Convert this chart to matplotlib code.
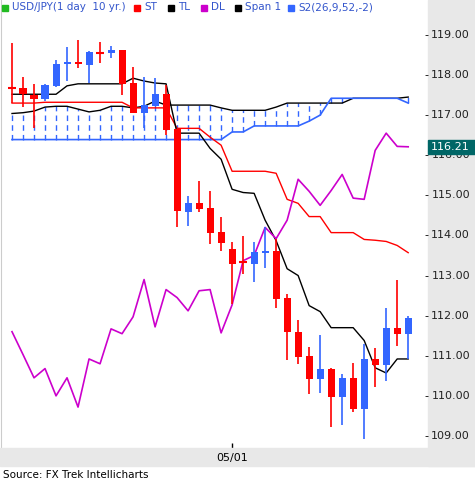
import numpy as np
import matplotlib.pyplot as plt

# candle data (USD/JPY daily)
opens = [117.68, 117.68, 117.50, 117.40, 117.73, 118.28, 118.33, 118.25, 118.56, 118.55,
         118.63, 117.80, 117.05, 117.22, 117.52, 116.65, 114.58, 114.80, 114.68, 114.08,
         113.65, 113.33, 113.30, 113.55, 113.62, 112.45, 111.60, 111.00, 110.43, 110.68,
         109.98, 110.45, 109.68, 110.93, 110.78, 111.68, 111.53]
highs = [118.80, 117.95, 117.78, 117.78, 118.38, 118.70, 118.88, 118.60, 118.82, 118.73,
         118.63, 118.20, 117.95, 117.92, 117.75, 116.65, 114.98, 115.35, 115.10, 114.45,
         113.83, 113.98, 113.83, 114.20, 113.92, 112.55, 111.90, 111.22, 111.52, 110.70,
         110.55, 110.82, 111.30, 111.20, 112.20, 112.90, 111.98]
lows = [117.30, 117.20, 116.68, 117.35, 117.70, 117.85, 118.17, 117.80, 118.30, 118.42,
        117.50, 117.05, 116.68, 117.22, 116.50, 114.20, 114.23, 114.58, 113.78, 113.60,
        112.28, 113.05, 112.83, 113.20, 112.20, 110.90, 110.80, 110.05, 110.07, 109.22,
        109.27, 109.60, 108.93, 110.23, 110.38, 111.25, 110.93]
closes = [117.68, 117.52, 117.40, 117.75, 118.28, 118.33, 118.28, 118.57, 118.56, 118.62,
          117.78, 117.05, 117.25, 117.52, 116.62, 114.60, 114.80, 114.65, 114.05, 113.80,
          113.30, 113.33, 113.58, 113.62, 112.42, 111.58, 110.98, 110.43, 110.68, 109.98,
          110.45, 109.68, 110.93, 110.78, 111.68, 111.53, 111.95]

st = [117.30, 117.30, 117.30, 117.32, 117.32, 117.32, 117.32, 117.32, 117.32, 117.32,
      117.32, 117.18, 117.18, 117.18, 117.18, 116.67, 116.67, 116.67, 116.45, 116.25,
      115.60, 115.60, 115.60, 115.60, 115.55, 114.90, 114.80, 114.47, 114.47, 114.07,
      114.07, 114.07, 113.90, 113.88, 113.85, 113.75, 113.57]
tl = [117.52, 117.52, 117.52, 117.52, 117.52, 117.73, 117.78, 117.78, 117.78, 117.78,
      117.78, 117.92, 117.85, 117.80, 117.78, 116.55, 116.55, 116.55, 116.17, 115.90,
      115.15, 115.07, 115.05, 114.38, 113.87, 113.17, 113.00, 112.25, 112.10, 111.70,
      111.70, 111.70, 111.38, 110.70, 110.57, 110.92, 110.92]
dl = [111.60, 111.03, 110.45, 110.68, 110.00, 110.45, 109.72, 110.92, 110.80, 111.67,
      111.55, 111.97, 112.90, 111.72, 112.65, 112.45, 112.12, 112.62, 112.65, 111.57,
      112.27, 113.37, 113.50, 114.20, 113.92, 114.38, 115.40, 115.10, 114.75, 115.12,
      115.52, 114.93, 114.90, 116.12, 116.55, 116.22, 116.21]
span1 = [117.04, 117.06, 117.10, 117.20, 117.22, 117.22, 117.15, 117.08, 117.12, 117.22,
         117.22, 117.18, 117.22, 117.35, 117.25, 117.25, 117.25, 117.25, 117.25, 117.18,
         117.12, 117.12, 117.12, 117.12, 117.20, 117.30, 117.30, 117.30, 117.30, 117.30,
         117.30, 117.42, 117.42, 117.42, 117.42, 117.42, 117.45]
span2 = [116.39] * 20 + [116.58, 116.58, 116.73, 116.73, 116.73, 116.73, 116.73, 116.85,
                         117.00, 117.42, 117.42, 117.42, 117.42, 117.42, 117.42, 117.42, 117.30]

price_ticks = [109, 110, 111, 112, 113, 114, 115, 116, 117, 118, 119]
last_price = 116.21
date_idx = 20
date_label = '05/01'

RED = '#ff0000'
BLUE = '#3366ff'
PURPLE = '#cc00cc'
GRAY = '#e8e8e8'

fig = plt.figure(figsize=(4.75, 4.84), dpi=100)
fig.patch.set_facecolor('white')
# gray panels: right axis and bottom strip
fig.patches.append(plt.Rectangle((428 / 475, 18 / 484), 47 / 475, 466 / 484,
                                 transform=fig.transFigure, color=GRAY, zorder=0))
fig.patches.append(plt.Rectangle((0, 18 / 484), 475 / 475, 18 / 484,
                                 transform=fig.transFigure, color=GRAY, zorder=0))
ax = fig.add_axes([1 / 475, 36 / 484, 427 / 475, 448 / 484])
ax.set_facecolor('white')
x = np.arange(len(opens))

# cloud verticals
ax.vlines(x, span2, span1, colors=BLUE, linestyles=(0, (4, 3)), linewidth=1, zorder=1)
ax.plot(x, span1, color='black', lw=1, zorder=2)
ax.plot(x, span2, color=BLUE, lw=1.2, zorder=2)
ax.plot(x, st, color=RED, lw=1, zorder=2)
ax.plot(x, tl, color='black', lw=1, zorder=2)
ax.plot(x, dl, color=PURPLE, lw=1.2, zorder=2)

for i in x:
    o, h, l, c = opens[i], highs[i], lows[i], closes[i]
    col = BLUE if c > o else RED
    ax.vlines(i, l, h, colors=col, lw=1.2, zorder=3)
    lo, hi = min(o, c), max(o, c)
    if hi - lo < 0.03:
        ax.hlines(o, i - 0.35, i + 0.35, colors=col, lw=1.5, zorder=3)
    else:
        ax.bar(i, hi - lo, bottom=lo, width=0.64, color=col, zorder=3)

ax.set_xlim(-1, 37.8)
ax.set_ylim(108.70, 119.87)
for s in ax.spines.values():
    s.set_visible(False)
ax.spines['left'].set_visible(True)
ax.spines['left'].set_color('#cccccc')
ax.set_yticks([])
ax.set_xticks([])
ax.vlines(date_idx, 108.70, 108.70 + 5 / 40.1, colors='black', lw=1)

# right axis labels
for p in price_ticks:
    yf = (484 - (35 + (119 - p) * 40.1)) / 484
    fig.text(424 / 475, yf, '-', fontsize=8, va='center', ha='left')
    fig.text(470 / 475, yf, f'{p:.2f}', fontsize=8, va='center', ha='right', color='#222222')
yf = (484 - (35 + (119 - last_price) * 40.1)) / 484
fig.patches.append(plt.Rectangle((428 / 475, yf - 7 / 484), 47 / 475, 14 / 484,
                                 transform=fig.transFigure, color='#006666', zorder=5))
fig.text(470 / 475, yf, f'{last_price:.2f}', fontsize=8, va='center', ha='right',
         color='white', zorder=6)

fig.text((12 + 11 * date_idx) / 475, 26 / 484, date_label, fontsize=8, ha='center', va='center')
fig.text(3 / 475, 9 / 484, 'Source: FX Trek Intellicharts', fontsize=7.5, va='center')

# legend row
legend = [('#22bb22', 'USD/JPY(1 day  10 yr.)', 2), (RED, 'ST', 134), ('black', 'TL', 168),
          (PURPLE, 'DL', 201), ('black', 'Span 1', 235), (BLUE, 'S2(26,9,52,-2)', 288)]
for col, lab, px in legend:
    fig.patches.append(plt.Rectangle((px / 475, (484 - 11) / 484), 6 / 475, 6 / 484,
                                     transform=fig.transFigure, color=col, zorder=5))
    fig.text((px + 10) / 475, (484 - 7.5) / 484, lab, fontsize=7.5, color='#3355cc',
             va='center', ha='left')

fig.savefig('out.png', dpi=100)
